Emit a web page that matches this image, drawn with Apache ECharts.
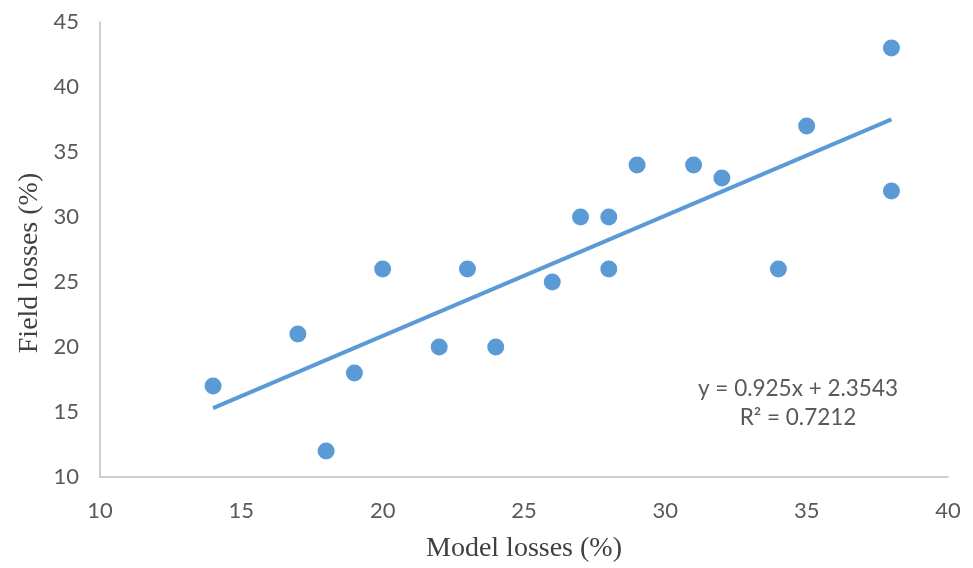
<!DOCTYPE html>
<html>
<head>
<meta charset="utf-8">
<script src="https://cdn.jsdelivr.net/npm/echarts@6/dist/echarts.min.js"></script>
<style>html,body{margin:0;padding:0;background:#fff}#c{width:973px;height:568px}</style>
</head>
<body>
<div id="c"></div>
<script>
const modelLosses = [14, 17, 18, 19, 20, 22, 23, 24, 26, 27, 28, 28, 29, 31, 32, 34, 35, 38, 38];
const fieldLosses = [17, 21, 12, 18, 26, 20, 26, 20, 25, 30, 30, 26, 34, 34, 33, 26, 37, 43, 32];
const trendSlope = 0.925;
const trendIntercept = 2.3543;
const trendXRange = [14, 38];
const eqLabel = 'y = 0.925x + 2.3543';
const r2Label = 'R² = 0.7212';
const xTitle = 'Model losses (%)';
const yTitle = 'Field losses (%)';

const pts = modelLosses.map((x, i) => [x, fieldLosses[i]]);
const trend = trendXRange.map(x => [x, trendSlope * x + trendIntercept]);

const chart = echarts.init(document.getElementById('c'));
const sans = 'Lato, "Open Sans", sans-serif';
const serif = '"Liberation Serif", "Times New Roman", serif';
chart.setOption({
  animation: false,
  grid: {left: 100, right: 25, top: 22, bottom: 89, containLabel: false},
  xAxis: {
    type: 'value', min: 10, max: 40, interval: 5,
    axisLine: {show: true, lineStyle: {color: '#BFBFBF', width: 1.5}},
    axisTick: {show: false},
    splitLine: {show: false},
    axisLabel: {margin: 23, color: '#595959', fontSize: 22, fontFamily: sans},
    name: xTitle, nameLocation: 'middle', nameGap: 58,
    nameTextStyle: {color: '#404040', fontSize: 28, fontFamily: serif}
  },
  yAxis: {
    type: 'value', min: 10, max: 45, interval: 5,
    axisLine: {show: true, lineStyle: {color: '#BFBFBF', width: 1.5}},
    axisTick: {show: false},
    splitLine: {show: false},
    axisLabel: {margin: 21, color: '#595959', fontSize: 22, fontFamily: sans}
  },
  series: [
    {
      type: 'line', data: trend, showSymbol: false, symbol: 'none',
      lineStyle: {color: '#5B9BD5', width: 4}, z: 2
    },
    {
      type: 'scatter', data: pts, symbol: 'circle', symbolSize: 17,
      itemStyle: {color: '#5B9BD5', opacity: 1}, z: 3
    }
  ],
  graphic: [
    {type: 'text', x: 30, y: 263, rotation: Math.PI / 2,
     style: {text: yTitle, fill: '#404040', fontSize: 28, fontFamily: serif, align: 'center', verticalAlign: 'middle'}},
    {type: 'text', x: 798, y: 389,
     style: {text: eqLabel, fill: '#595959', fontSize: 22.5, fontFamily: sans, align: 'center', verticalAlign: 'middle'}},
    {type: 'text', x: 798, y: 418,
     style: {text: r2Label, fill: '#595959', fontSize: 22.5, fontFamily: sans, align: 'center', verticalAlign: 'middle'}}
  ]
});
</script>
</body>
</html>
